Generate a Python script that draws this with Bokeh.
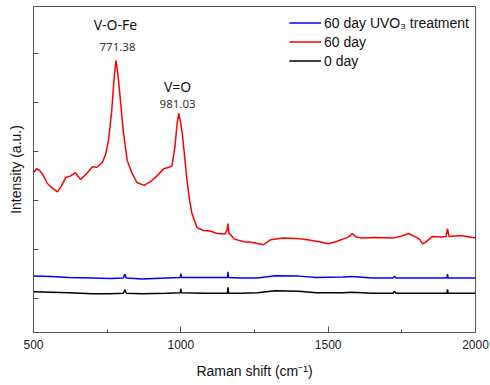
from bokeh.plotting import figure
from bokeh.models import Range1d, FixedTicker, Legend, LegendItem, Label
from bokeh.embed import file_html
from bokeh.resources import INLINE

# ---- data ----
red_x = [500, 510, 520, 530, 547, 565, 582, 595, 609, 625, 642, 660, 680, 700, 715, 734,
         745, 755, 765, 773, 780, 787, 795, 805, 818, 835, 851, 875, 900, 920, 942, 960,
         970, 980, 987, 993, 999, 1005, 1012, 1021, 1030, 1038, 1055, 1077, 1100, 1123,
         1150, 1157, 1160, 1163, 1170, 1180, 1213, 1240, 1280, 1304, 1348, 1390, 1430,
         1470, 1501, 1530, 1552, 1570, 1582, 1595, 1610, 1660, 1722, 1750, 1773, 1803,
         1812, 1820, 1830, 1854, 1880, 1900, 1905, 1910, 1949, 1980, 2000]
red_y = [2.57, 2.65, 2.62, 2.55, 2.35, 2.25, 2.18, 2.30, 2.47, 2.50, 2.57, 2.43, 2.55, 2.69,
         2.68, 2.78, 2.95, 3.25, 3.80, 4.45, 4.86, 4.55, 4.04, 3.40, 2.82, 2.55, 2.37, 2.31,
         2.40, 2.51, 2.65, 2.68, 2.71, 3.10, 3.55, 3.78, 3.60, 3.37, 2.95, 2.41, 2.00, 1.73,
         1.45, 1.39, 1.38, 1.33, 1.32, 1.40, 1.53, 1.33, 1.30, 1.22, 1.16, 1.15, 1.10, 1.20,
         1.24, 1.23, 1.20, 1.16, 1.12, 1.17, 1.22, 1.26, 1.33, 1.26, 1.24, 1.25, 1.24, 1.28,
         1.33, 1.24, 1.20, 1.12, 1.15, 1.27, 1.26, 1.27, 1.43, 1.27, 1.29, 1.26, 1.24]

base_x = [500, 560, 620, 700, 760, 805, 810, 815, 870, 950, 998, 1000, 1002, 1080, 1158,
          1160, 1162, 1200, 1260, 1320, 1400, 1460, 1550, 1580, 1650, 1720, 1725, 1730,
          1800, 1903, 1905, 1907, 2000]
blue_y = [0.46, 0.45, 0.43, 0.42, 0.41, 0.42, 0.50, 0.42, 0.40, 0.42, 0.43, 0.51, 0.43,
          0.43, 0.43, 0.55, 0.43, 0.42, 0.42, 0.47, 0.46, 0.43, 0.44, 0.45, 0.42, 0.42,
          0.46, 0.42, 0.42, 0.42, 0.50, 0.42, 0.42]
black_y = [0.14, 0.13, 0.12, 0.10, 0.10, 0.11, 0.18, 0.11, 0.10, 0.11, 0.12, 0.20, 0.12,
           0.11, 0.11, 0.23, 0.11, 0.11, 0.12, 0.16, 0.15, 0.12, 0.12, 0.13, 0.11, 0.11,
           0.15, 0.11, 0.11, 0.11, 0.19, 0.11, 0.11]

x_ticks = [500, 1000, 1500, 2000]
x_minor = [750, 1250, 1750]
y_ticks = [0, 1, 2, 3, 4, 5]

series_labels = ["60 day UVO\u2083 treatment", "60 day", "0 day"]
peak_names = ["V-O-Fe", "V=O"]
peak_pos = [771.38, 981.03]
peak_text = ["771.38", "981.03"]

FONT = "Liberation Sans"
AXC = "#555555"

p = figure(width=490, height=385, output_backend="svg", toolbar_location=None,
           x_range=Range1d(500, 2000), y_range=Range1d(-0.69, 5.96),
           min_border_left=33, min_border_right=15, min_border_top=6, min_border_bottom=53)
p.background_fill_color = "white"
p.border_fill_color = "white"
p.outline_line_color = AXC
p.outline_line_width = 1
p.xgrid.visible = False
p.ygrid.visible = False

r_red = p.line(red_x, red_y, line_color="#ff0000", line_width=1.5)
r_blue = p.line(base_x, blue_y, line_color="#0000ff", line_width=1.5)
r_black = p.line(base_x, black_y, line_color="#000000", line_width=1.5)

# x axis
p.xaxis.ticker = FixedTicker(ticks=x_ticks, minor_ticks=x_minor)
p.xaxis.axis_line_color = AXC
p.xaxis.major_tick_line_color = AXC
p.xaxis.minor_tick_line_color = AXC
p.xaxis.major_tick_in = 6
p.xaxis.major_tick_out = 0
p.xaxis.minor_tick_in = 3
p.xaxis.minor_tick_out = 0
p.xaxis.major_label_text_font = FONT
p.xaxis.major_label_text_font_size = "12px"
p.xaxis.major_label_text_color = "#222222"
p.xaxis.major_label_standoff = 7
p.xaxis.axis_label = "Raman shift (cm\u207b\u00b9)"
p.xaxis.axis_label_text_font = FONT
p.xaxis.axis_label_text_font_size = "14px"
p.xaxis.axis_label_text_font_style = "normal"
p.xaxis.axis_label_text_color = "#111111"
p.xaxis.axis_label_standoff = 11

# y axis
p.yaxis.ticker = FixedTicker(ticks=y_ticks, minor_ticks=[])
p.yaxis.major_label_overrides = {t: "" for t in y_ticks}
p.yaxis.axis_line_color = AXC
p.yaxis.major_tick_line_color = AXC
p.yaxis.major_tick_in = 5
p.yaxis.major_tick_out = 0
p.yaxis.minor_tick_line_color = None
p.yaxis.axis_label = "Intensity (a.u.)"
p.yaxis.axis_label_text_font = FONT
p.yaxis.axis_label_text_font_size = "14px"
p.yaxis.axis_label_text_font_style = "normal"
p.yaxis.axis_label_text_color = "#111111"
p.yaxis.axis_label_standoff = 10

# peak annotations
name_y = [5.59, 4.33]
num_y = [5.14, 3.98]
name_x = [778, 989]
num_x = [785, 989]
for i in range(2):
    p.add_layout(Label(x=name_x[i], y=name_y[i], text=peak_names[i], text_align="center",
                       text_baseline="middle", text_font="Noto Sans", text_font_size="14px",
                       text_color="#111111"))
    p.add_layout(Label(x=num_x[i], y=num_y[i], text=peak_text[i], text_align="center",
                       text_baseline="middle", text_font="Noto Sans", text_font_size="11.5px",
                       text_color="#333333"))

legend = Legend(items=[LegendItem(label=series_labels[0], renderers=[r_blue]),
                       LegendItem(label=series_labels[1], renderers=[r_red]),
                       LegendItem(label=series_labels[2], renderers=[r_black])],
                location=(256, 262), border_line_color=None, background_fill_alpha=0,
                label_text_font=FONT, label_text_font_size="14px", label_text_color="#111111",
                glyph_width=32, glyph_height=19, label_height=19, spacing=0,
                label_standoff=3, padding=6, margin=0)
p.add_layout(legend)

open("out.html", "w").write(file_html(p, INLINE))
